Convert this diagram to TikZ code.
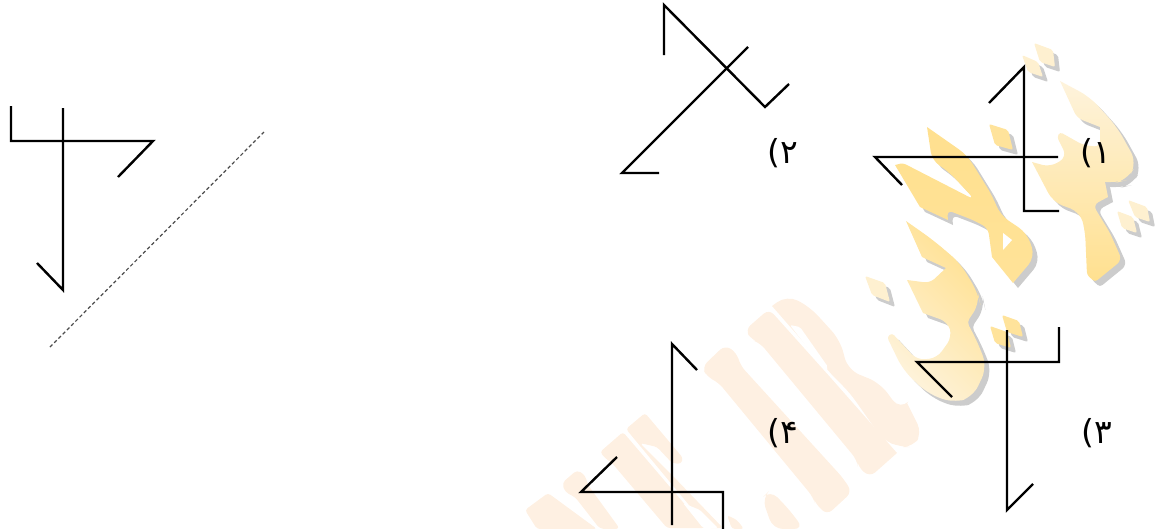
\documentclass[tikz,border=0pt]{standalone}
\usepackage{fontspec}
\TeXXeTstate=1
\newfontfamily\arabicfont[Script=Arabic]{DejaVu Sans}
\definecolor{wmorange}{HTML}{FEF0E2}
\definecolor{wmlight}{HTML}{FEF3DC}
\definecolor{wmdeep}{HTML}{FFE08F}
\definecolor{wmshadow}{HTML}{CCCCCC}
\tikzset{
  figline/.style={draw=black,line width=2.4pt,line join=miter},
  guideline/.style={draw=black!70,line width=1.2pt,dash pattern=on 3.5pt off 2.5pt},
  optlabel/.style={inner sep=0pt,font=\arabicfont\fontsize{33}{33}\selectfont},
  letter/.style={fill=wmorange,rounded corners=7pt},
  glyphA/.style={top color=wmlight,bottom color=wmdeep},
  glyphB/.style={top color=wmdeep,bottom color=wmdeep!92!white},
  glyphC/.style={top color=wmdeep,bottom color=wmlight,shading angle=-45},
  dotlight/.style={fill=wmlight!85!wmdeep},
  dotdeep/.style={fill=wmdeep!85!wmlight}
}
\newcommand{\wmglyph}[3]{%
  \fill[wmshadow,rounded corners=#2,shift={(5,5)}] #3;
  \path[#1,rounded corners=#2] #3;}
\begin{document}
\begin{tikzpicture}[x=1pt,y=-1pt]
\useasboundingbox (0,0) rectangle (1159,528);
% pale letters of the watermark
\fill[letter] (702,367) -- (725,345) -- (737,353) -- (740,365) -- (843,478) -- (852,492) -- (827,515) -- (815,503) -- (813,497) -- (718,382) -- (707,377) -- cycle;
\fill[letter] (745,330) -- (769,309) [sharp corners] -- (830,377) -- (897,453) [rounded corners=7pt] -- (870,477) -- (858,467) -- (857,460) -- (760,343) -- (752,340) -- cycle;
\fill[letter,rounded corners=12pt] (772,306) -- (787,295) -- (810,307) -- (840,340) -- (848,370) -- (880,383) -- (900,410) [sharp corners] -- (907,403) [rounded corners=10pt] -- (922,433) -- (913,447) -- (900,447) -- (883,440) -- (850,393) [sharp corners] -- (833,376) -- cycle;
\fill[white,rounded corners=2pt] (790,325) -- (800,327) -- (828,367) -- (826,372) -- cycle;
\fill[letter,rounded corners=3pt] (600,452) -- (623,432) -- (705,528) -- (667,528) -- (612,463) -- (605,458) -- cycle;
\fill[letter,rounded corners=3pt] (626,429) -- (645,413) -- (683,458) -- (681,464) -- (672,463) -- (657,447) -- (640,443) -- (672,475) -- (723,528) -- (708,528) -- cycle;
\fill[white,rounded corners=2pt] (683,503) -- (700,510) -- (718,528) -- (703,528) -- cycle;
\fill[letter,rounded corners=3pt] (727,515) -- (737,520) -- (744,529) -- (732,529) -- cycle;
\fill[letter,rounded corners=4pt] (562,483) -- (577,470) -- (585,475) -- (588,485) -- (620,529) -- (600,529) -- (575,497) -- (565,492) -- cycle;
\fill[letter,rounded corners=3pt] (525,510) -- (548,493) -- (597,529) -- (537,529) -- cycle;
\fill[letter,rounded corners=10pt] (762,498) -- (770,490) -- (787,507) -- (804,529) -- (773,529) -- cycle;
% yellow glyphs of the watermark
\wmglyph{glyphA}{12pt}{(1060,81) -- (1090,97) -- (1117,127) -- (1137,163) -- (1127,180) -- (1115,183) [sharp corners] -- (1105,182) -- (1108,197) [rounded corners=6pt] -- (1093,205) -- (1110,233) -- (1122,260) [rounded corners=3pt] -- (1095,282) -- (1087,275) [rounded corners=10pt] -- (1085,230) -- (1080,212) -- (1053,202) [sharp corners] -- (1032,162) [rounded corners=8pt] -- (1050,167) -- (1067,157) [rounded corners=3pt] -- (1057,137) -- (1060,132) [rounded corners=6pt] -- (1083,145) -- (1100,147) [sharp corners] -- (1100,127) [rounded corners=6pt] -- (1077,118) [sharp corners] -- cycle}
\wmglyph{glyphB}{10pt}{(927,127) -- (967,155) -- (993,197) -- (1000,215) -- (1027,233) -- (1035,257) [sharp corners] -- (1013,283) -- (992,257) [rounded corners=6pt] -- (988,228) -- (973,220) -- (947,210) [sharp corners] -- (948,220) -- (920,207) -- (895,165) [rounded corners=3pt] -- (903,163) [rounded corners=8pt] -- (975,200) -- (950,173) -- (932,160) [sharp corners] -- cycle}
\fill[white] (1003,233) -- (1012,240) -- (1003,250) -- cycle;
\wmglyph{glyphC}{12pt}{(906,221) -- (933,240) -- (960,263) -- (978,293) -- (980,303) [rounded corners=4pt] -- (967,322) [rounded corners=12pt] -- (978,343) -- (987,367) -- (973,397) -- (953,403) -- (927,393) -- (903,370) [rounded corners=3pt] -- (887,337) -- (892,333) [rounded corners=8pt] -- (917,360) -- (937,358) -- (952,337) -- (948,322) [sharp corners] -- (923,313) -- (907,280) [rounded corners=6pt] -- (930,283) [sharp corners] -- (946,268) -- (922,257) -- cycle}
\wmglyph{dotlight}{2pt}{(1022,55) -- (1038,62) -- (1043,77) -- (1028,72) -- cycle}
\wmglyph{dotlight}{2pt}{(1034,43) -- (1053,50) -- (1055,67) -- (1040,62) -- cycle}
\wmglyph{dotdeep}{2pt}{(989,124) -- (1008,130) -- (1013,150) -- (995,145) -- cycle}
\wmglyph{dotlight}{2pt}{(1117,211) -- (1133,217) -- (1137,233) -- (1122,228) -- cycle}
\wmglyph{dotlight}{2pt}{(1128,200) -- (1147,207) -- (1150,222) -- (1135,217) -- cycle}
\wmglyph{dotlight}{2pt}{(865,276) -- (885,283) -- (890,302) -- (872,295) -- cycle}
\wmglyph{dotdeep}{2pt}{(990,326) -- (1007,332) -- (1011,348) -- (995,343) -- cycle}
\wmglyph{dotdeep}{2pt}{(1002,315) -- (1019,321) -- (1023,337) -- (1007,332) -- cycle}
% reference figure
\draw[figline] (11,106) -- (11,141) -- (153,141) -- (118,177);
\draw[figline] (63,108) -- (63,290) -- (37,263);
\draw[guideline] (50,347) -- (264,132);
% option 2
\draw[figline] (664,55) -- (664,5) -- (765,107) -- (789,84);
\draw[figline] (748,47) -- (622,173) -- (659,173);
% option 1
\draw[figline] (989,103) -- (1024,67) -- (1024,211) -- (1059,211);
\draw[figline] (1058,157) -- (875,157) -- (902,185);
% option 3
\draw[figline] (1059,327) -- (1059,362) -- (917,362) -- (952,397);
\draw[figline] (1007,330) -- (1007,510) -- (1033,484);
% option 4
\draw[figline] (697,370) -- (672,344) -- (672,525);
\draw[figline] (617,457) -- (581,492) -- (723,492) -- (723,530);
% labels
\node[optlabel] (one) at (1096,153) {\beginR ۱)\endR};
\node[optlabel] (two) at (783,153) {\beginR ۲)\endR};
\node[optlabel] (three) at (1097,433) {\beginR ۳)\endR};
\node[optlabel] (four) at (783,433) {\beginR ۴)\endR};
\end{tikzpicture}
\end{document}
